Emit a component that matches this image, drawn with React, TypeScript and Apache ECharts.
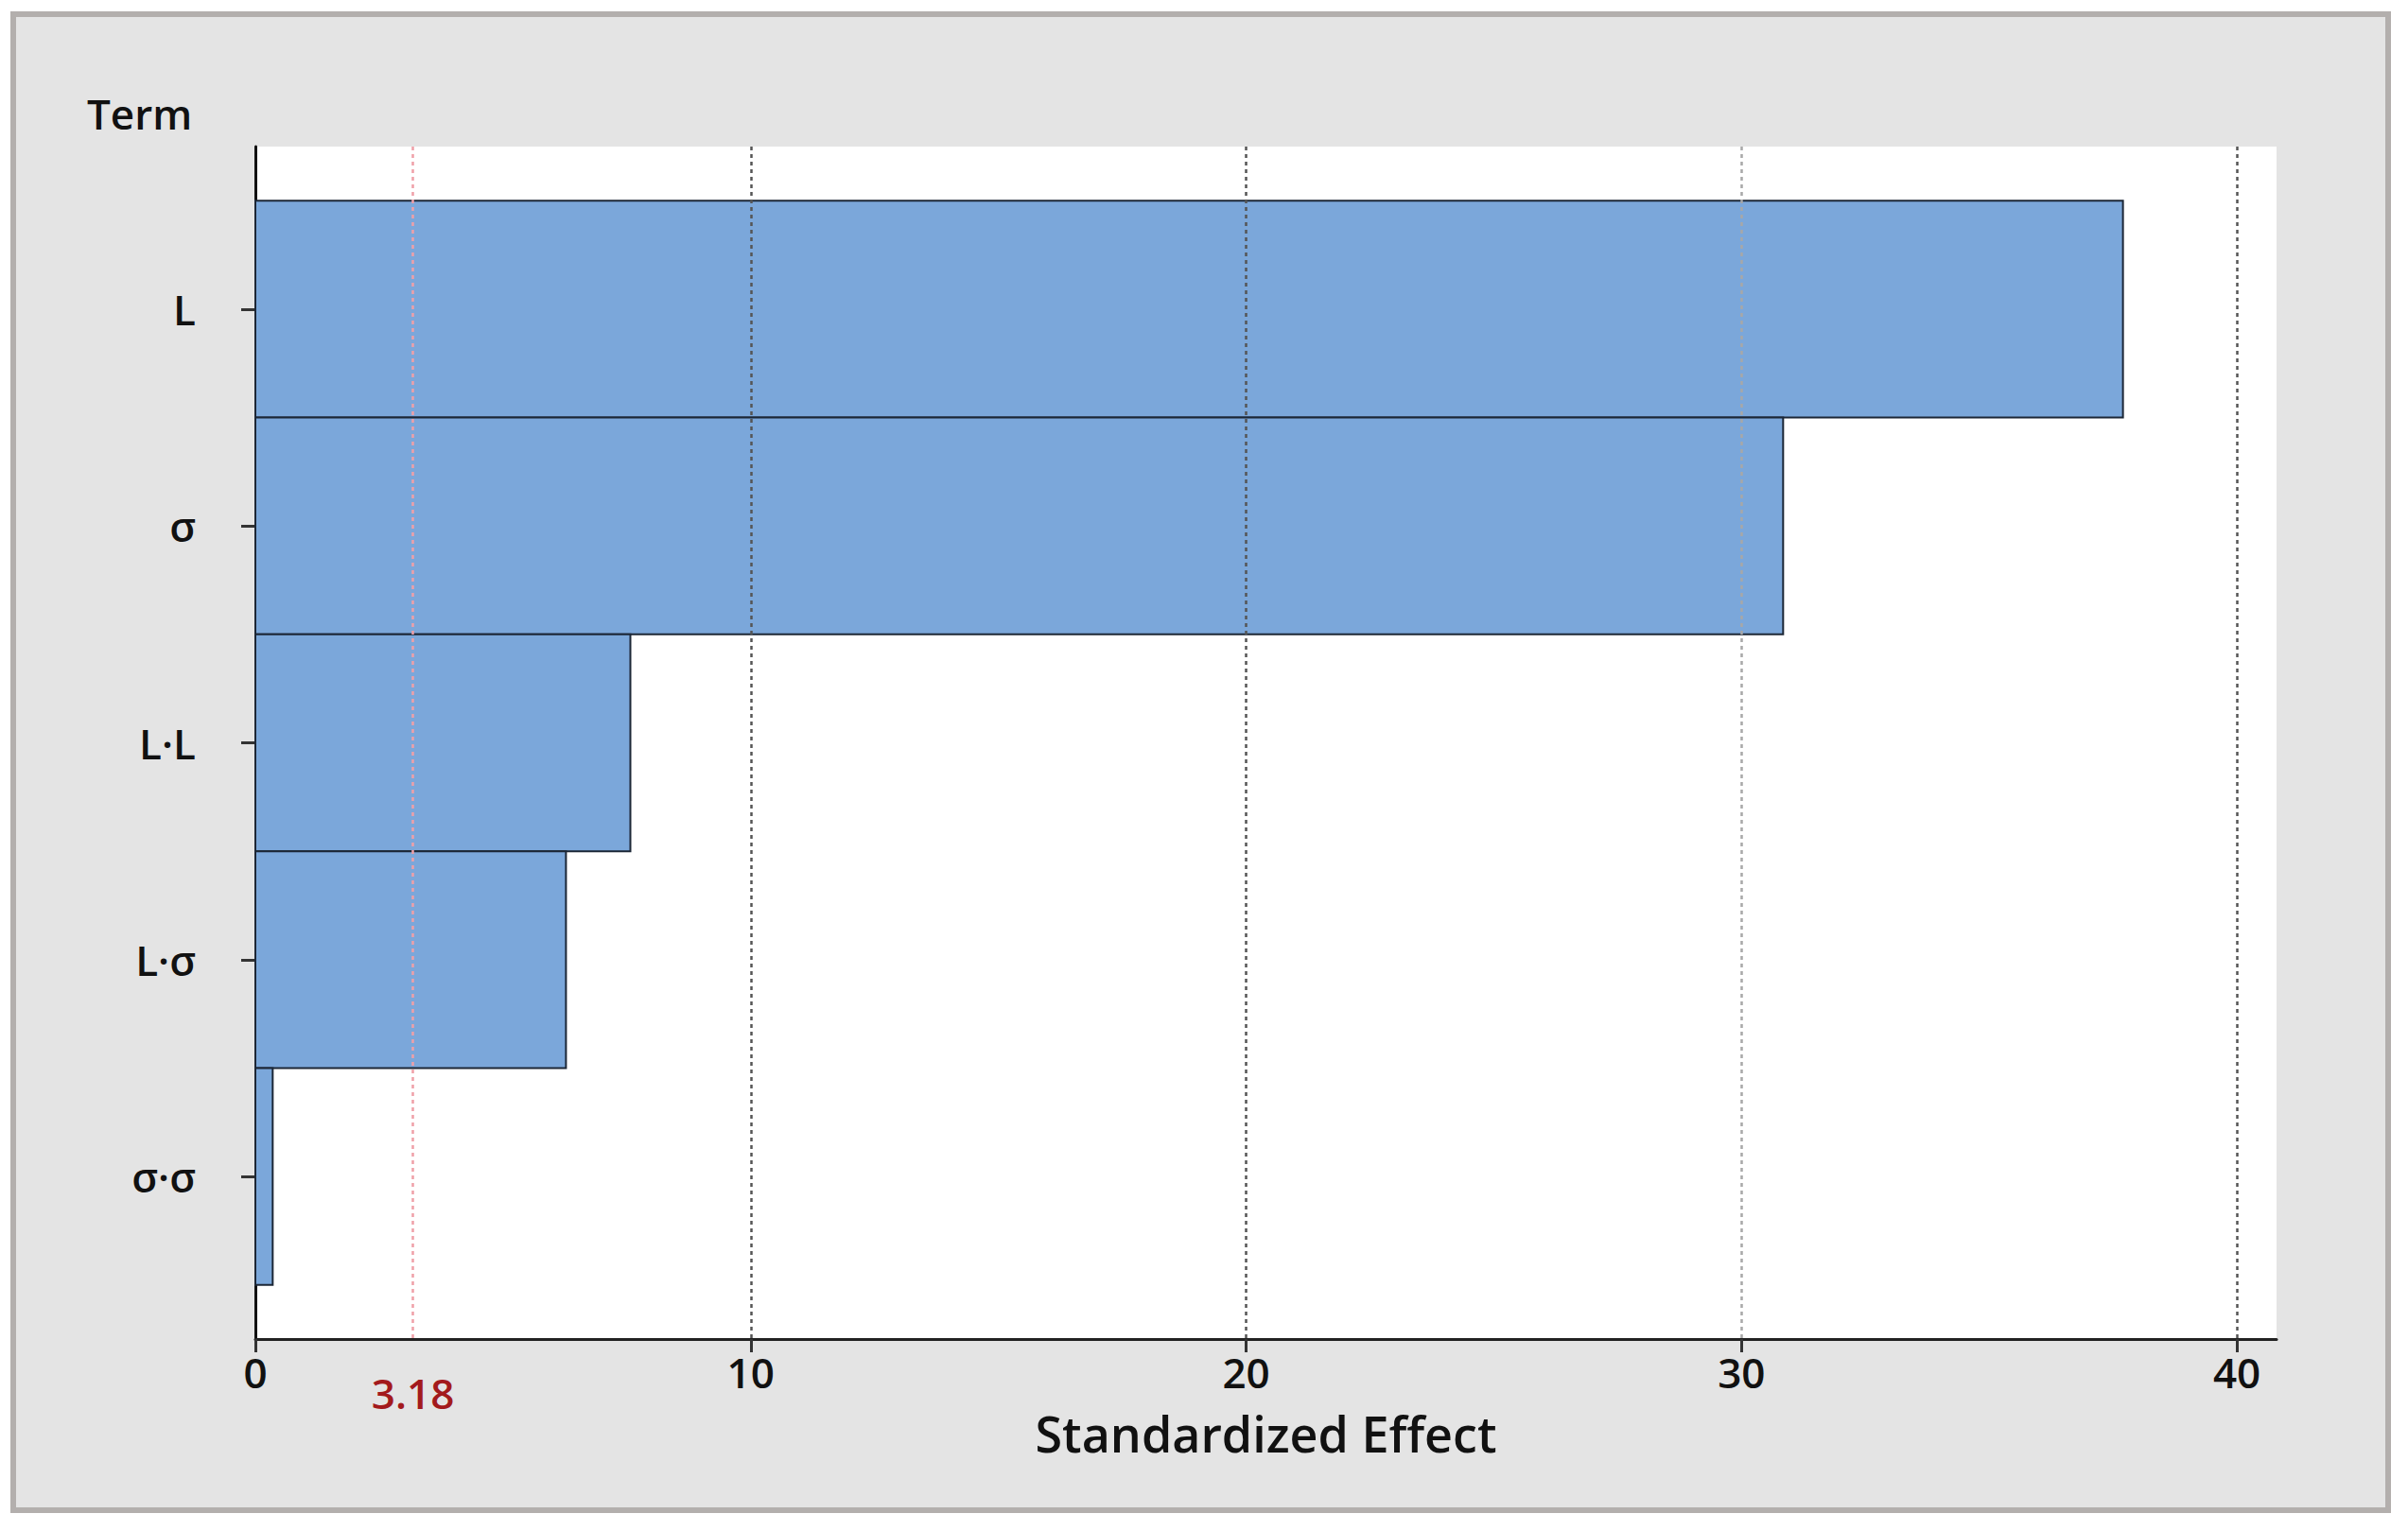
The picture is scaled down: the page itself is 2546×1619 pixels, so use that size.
import React, { useEffect, useRef } from "react";
import * as echarts from "echarts";

const terms = ["L", "σ", "L·L", "L·σ", "σ·σ"];
const effects = [37.7, 30.84, 7.57, 6.27, 0.35];
const xTicks = [0, 10, 20, 30, 40];
const criticalValue = 3.18;
const gridDark = [10, 20, 40];
const gridLight = [30];

const FONT = "'Open Sans', 'Noto Sans', sans-serif";

export default function App() {
  const ref = useRef<HTMLDivElement>(null);

  useEffect(() => {
    document.body.style.margin = "0";
    const chart = echarts.init(ref.current!, null, { renderer: "svg" });
    const barData = effects.map((v, i) => [v, i]);
    const gridLines = [
      ...gridDark.map((v) => ({ xAxis: v, lineStyle: { color: "#555555", type: [4, 4], width: 2.5 } })),
      ...gridLight.map((v) => ({ xAxis: v, lineStyle: { color: "#a8a8a8", type: [4, 4], width: 2.5 } })),
      { xAxis: criticalValue, lineStyle: { color: "#f0a0a8", type: [4, 4], width: 2.5 } },
    ];
    chart.setOption({
      animation: false,
      backgroundColor: "#ffffff",
      graphic: [
        {
          type: "rect",
          z: -10,
          shape: { x: 14, y: 15, width: 2511, height: 1582 },
          style: { fill: "#e4e4e4", stroke: "#b3afad", lineWidth: 6 },
        },
        {
          type: "text",
          x: 92,
          y: 120,
          style: {
            text: "Term",
            font: `600 44px ${FONT}`,
            fill: "#111111",
            verticalAlign: "middle",
            align: "left",
          },
        },
      ],
      grid: {
        left: 270,
        top: 155,
        right: 139,
        bottom: 203,
        show: true,
        backgroundColor: "#ffffff",
        borderWidth: 0,
      },
      xAxis: {
        type: "value",
        min: 0,
        max: 40.8,
        interval: 10,
        name: "Standardized Effect",
        nameLocation: "middle",
        nameGap: 73,
        nameMoveOverlap: false,
        nameTextStyle: { fontFamily: FONT, fontSize: 52, color: "#111111", fontWeight: 600 },
        axisLine: { show: true, onZero: false, lineStyle: { color: "#222222", width: 3 } },
        axisTick: {
          show: true,
          length: 14,
          customValues: xTicks,
          lineStyle: { color: "#333333", width: 3 },
        },
        axisLabel: {
          customValues: [0, criticalValue, 10, 20, 30, 40],
          margin: 13,
          fontFamily: FONT,
          fontSize: 44,
          fontWeight: 600,
          color: "#111111",
          formatter: (v: number) =>
            v === criticalValue ? `{red|${criticalValue}}` : `${v}`,
          rich: {
            red: {
              color: "#a31a1c",
              fontFamily: FONT,
              fontSize: 44,
              fontWeight: 600,
              padding: [22, 0, 0, 0],
            },
          },
        },
        splitLine: { show: false },
      },
      yAxis: {
        type: "value",
        min: -0.75,
        max: 4.75,
        inverse: true,
        axisLine: { show: true, onZero: false, lineStyle: { color: "#111111", width: 3 } },
        axisTick: {
          show: true,
          length: 15,
          customValues: [0, 1, 2, 3, 4],
          lineStyle: { color: "#333333", width: 3 },
        },
        axisLabel: {
          customValues: [0, 1, 2, 3, 4],
          margin: 63,
          fontFamily: FONT,
          fontSize: 44,
          fontWeight: 600,
          color: "#111111",
          formatter: (v: number) => terms[Math.round(v)] ?? "",
        },
        splitLine: { show: false },
      },
      series: [
        {
          type: "custom",
          name: "gridlines",
          z: 1,
          data: [],
          renderItem: () => ({ type: "group", children: [] }),
          markLine: {
            silent: true,
            symbol: ["none", "none"],
            label: { show: false },
            data: gridLines,
          },
        },
        {
          type: "custom",
          name: "Effect",
          z: 3,
          encode: { x: 0, y: 1 },
          data: barData,
          renderItem: (params: any, api: any) => {
            const v = api.value(0);
            const idx = api.value(1);
            const start = api.coord([0, idx]);
            const end = api.coord([v, idx]);
            const h = api.size([0, 1])[1];
            return {
              type: "rect",
              shape: {
                x: start[0],
                y: start[1] - h / 2,
                width: end[0] - start[0],
                height: h,
              },
              style: { fill: "#7ba7da", stroke: "#1c2736", lineWidth: 2 },
            };
          },
        },
      ],
    });
    return () => chart.dispose();
  }, []);

  return (
    <div
      ref={ref}
      style={{ position: "fixed", left: 0, top: 0, width: 2546, height: 1619 }}
    />
  );
}
